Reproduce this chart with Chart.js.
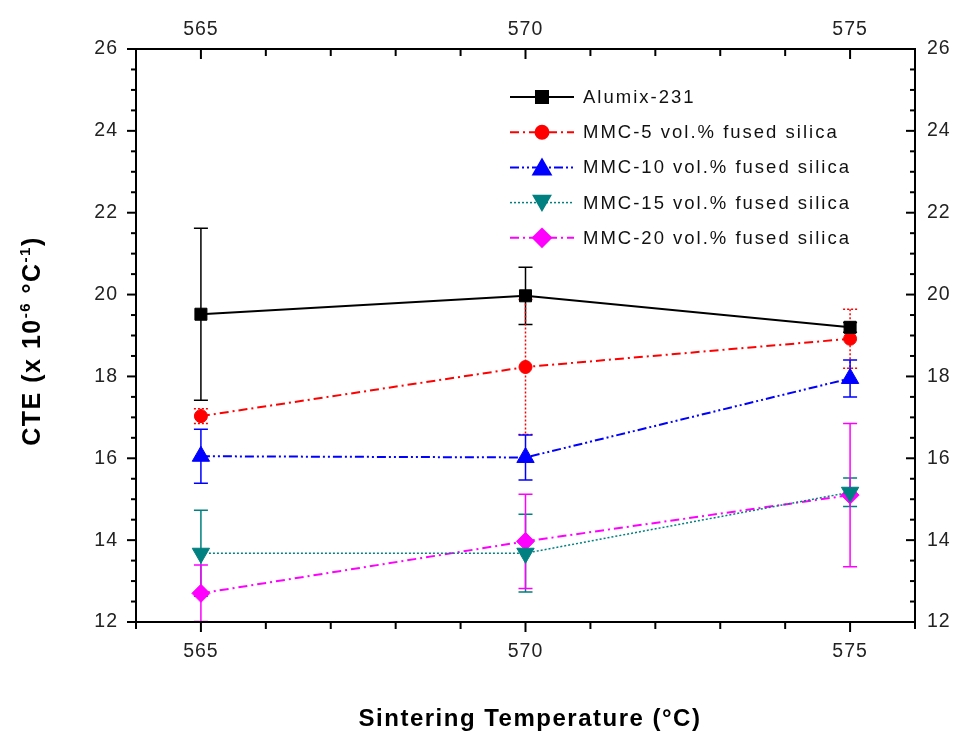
<!DOCTYPE html>
<html>
<head>
<meta charset="utf-8">
<script src="https://cdn.jsdelivr.net/npm/chart.js@4.4.1/dist/chart.umd.min.js"></script>
<style>
  html, body { margin: 0; padding: 0; background: #fff; }
  canvas { display: block; }
</style>
</head>
<body>
<canvas id="cteChart" width="960" height="731"></canvas>
<script>
// =============================
// DATA
// =============================

const temps = [565, 570, 575];

const alumix = [19.52, 19.97, 19.2];
const alumixErr = [2.1, 0.7, 0.12];

const mmc5 = [17.03, 18.23, 18.92];
const mmc5Err = [0.18, 1.65, 0.72];

const mmc10 = [16.05, 16.02, 17.95];
const mmc10Err = [0.66, 0.55, 0.45];

const mmc15 = [13.68, 13.68, 15.17];
const mmc15Err = [1.05, 0.95, 0.35];

const mmc20 = [12.7, 13.97, 15.1];
const mmc20Err = [0.69, 1.15, 1.75];

const xTickLabels = [565, 570, 575];
const yTickLabels = [12, 14, 16, 18, 20, 22, 24, 26];

const FONT = "'Liberation Sans', Arial, sans-serif";


// =============================
// HELPERS
// =============================

function toPoints(values) {
  return values.map((v, i) => ({ x: temps[i], y: v }));
}

function fixSize(prop, size) {
  return scale => { scale[prop] = size; };
}


// =============================
// PLUGINS
// =============================

// error bars, under the lines and markers
const errorBars = {
  id: 'errorBars',
  beforeDatasetsDraw(chart) {
    const { ctx, chartArea: a, scales } = chart;
    ctx.save();
    ctx.beginPath();
    ctx.rect(a.left, a.top - 1, a.right - a.left, a.bottom - a.top + 1);
    ctx.clip();
    chart.data.datasets.forEach(ds => {
      ctx.strokeStyle = ds.borderColor;
      ctx.lineWidth = 1.5;
      ctx.setLineDash(ds.errDash || []);
      ds.data.forEach((p, i) => {
        const e = ds.errors[i];
        const px = scales.x.getPixelForValue(p.x);
        const top = scales.y.getPixelForValue(p.y + e);
        const bot = scales.y.getPixelForValue(p.y - e);
        ctx.beginPath();
        ctx.moveTo(px, top); ctx.lineTo(px, bot);
        ctx.moveTo(px - 7, top); ctx.lineTo(px + 7, top);
        ctx.moveTo(px - 7, bot); ctx.lineTo(px + 7, bot);
        ctx.stroke();
      });
    });
    ctx.restore();
  }
};

// axis frame with Origin-like ticks
const frame = {
  id: 'frame',
  beforeDraw(chart) {
    chart.ctx.letterSpacing = '1px';
  },
  afterDraw(chart) {
    const { ctx, chartArea: a, scales } = chart;
    ctx.save();
    ctx.strokeStyle = '#000';
    ctx.lineWidth = 2;
    ctx.setLineDash([]);
    ctx.strokeRect(a.left, a.top, a.right - a.left, a.bottom - a.top);

    const seg = (x1, y1, x2, y2) => {
      ctx.beginPath(); ctx.moveTo(x1, y1); ctx.lineTo(x2, y2); ctx.stroke();
    };

    for (let v = 12; v <= 26; v += 0.5) {
      const py = scales.y.getPixelForValue(v);
      const len = v % 2 === 0 ? 9 : 5;
      seg(a.left - len, py, a.left, py);
      seg(a.right - len, py, a.right, py);
    }
    for (let v = 564; v <= 576; v++) {
      const px = scales.x.getPixelForValue(v);
      const len = v % 5 === 0 ? 10 : 7;
      seg(px, a.bottom, px, a.bottom + len);
      seg(px, a.top, px, a.top + len);
    }

    // axis titles
    ctx.fillStyle = '#000';
    ctx.letterSpacing = '1.5px';
    ctx.font = 'bold 24px ' + FONT;
    ctx.textAlign = 'center';
    ctx.textBaseline = 'alphabetic';
    ctx.fillText('Sintering Temperature (°C)', 530, 726);

    const parts = [
      ['CTE (x 10', 25, 0],
      ['-6', 15, -10],
      [' °C', 25, 0],
      ['-1', 15, -10],
      [')', 25, 0]
    ];
    ctx.translate(40, 341);
    ctx.rotate(-Math.PI / 2);
    ctx.textAlign = 'left';
    let total = 0;
    parts.forEach(p => {
      ctx.font = 'bold ' + p[1] + 'px ' + FONT;
      total += ctx.measureText(p[0]).width;
    });
    let cx = -total / 2;
    parts.forEach(p => {
      ctx.font = 'bold ' + p[1] + 'px ' + FONT;
      ctx.fillText(p[0], cx, p[2]);
      cx += ctx.measureText(p[0]).width;
    });
    ctx.restore();
  }
};

// legend in the upper right of the plot
const legendBox = {
  id: 'legendBox',
  afterDraw(chart) {
    const { ctx } = chart;
    ctx.save();
    ctx.letterSpacing = '2px';
    ctx.font = '18.5px ' + FONT;
    ctx.textBaseline = 'middle';
    ctx.textAlign = 'left';
    chart.data.datasets.forEach((ds, i) => {
      const y = 97 + i * 35.2;
      ctx.strokeStyle = ds.borderColor;
      ctx.lineWidth = ds.borderWidth;
      ctx.setLineDash(ds.borderDash || []);
      ctx.beginPath();
      ctx.moveTo(510, y); ctx.lineTo(574, y);
      ctx.stroke();
      ctx.setLineDash([]);
      ctx.fillStyle = ds.pointBackgroundColor;
      ctx.strokeStyle = ds.pointBorderColor;
      Chart.helpers.drawPoint(ctx, {
        pointStyle: ds.pointStyle,
        rotation: ds.pointRotation || 0,
        radius: ds.pointRadius,
        borderWidth: 1
      }, 542, ds.pointStyle === 'triangle' ? y + (ds.pointRotation ? -2 : 2) : y);
      ctx.fillStyle = '#111';
      ctx.fillText(ds.label, 583, y + 1);
    });
    ctx.restore();
  }
};


// =============================
// CHART
// =============================

function series(label, values, errs, color, style) {
  return Object.assign({
    label: label,
    data: toPoints(values),
    errors: errs,
    borderColor: color,
    backgroundColor: color,
    pointBackgroundColor: color,
    pointBorderColor: color,
    pointBorderWidth: 1,
    borderWidth: 2,
    tension: 0,
    fill: false,
    xAxisID: 'x',
    yAxisID: 'y'
  }, style);
}

const tickFont = { family: FONT, size: 19.5 };

new Chart(document.getElementById('cteChart'), {
  type: 'line',
  data: {
    datasets: [
      series('Alumix-231', alumix, alumixErr, '#000000',
        { pointStyle: 'rect', pointRadius: 8.5 }),
      series('MMC-5 vol.% fused silica', mmc5, mmc5Err, '#ff0000',
        { pointStyle: 'circle', pointRadius: 6.5, borderDash: [9, 4, 2, 4], errDash: [2, 2] }),
      series('MMC-10 vol.% fused silica', mmc10, mmc10Err, '#0000ff',
        { pointStyle: 'triangle', pointRadius: 10, borderDash: [9, 3, 2, 3, 2, 3] }),
      series('MMC-15 vol.% fused silica', mmc15, mmc15Err, '#008080',
        { pointStyle: 'triangle', pointRotation: 180, pointRadius: 10, borderWidth: 1.5, borderDash: [2, 2] }),
      series('MMC-20 vol.% fused silica', mmc20, mmc20Err, '#ff00ff',
        { pointStyle: 'rectRot', pointRadius: 9, borderDash: [9, 4, 2, 4] })
    ]
  },
  options: {
    responsive: false,
    animation: false,
    devicePixelRatio: 1,
    layout: { padding: 0 },
    plugins: {
      legend: { display: false },
      tooltip: { enabled: false }
    },
    scales: {
      x: {
        type: 'linear', position: 'bottom', min: 564, max: 576,
        grid: { display: false, drawTicks: false }, border: { display: false },
        ticks: {
          stepSize: 1, padding: 18, color: '#222', font: tickFont, maxRotation: 0, autoSkip: false,
          callback: v => xTickLabels.includes(v) ? String(v) : ''
        },
        afterFit: fixSize('height', 109)
      },
      x2: {
        type: 'linear', position: 'top', min: 564, max: 576,
        grid: { display: false, drawTicks: false }, border: { display: false },
        ticks: {
          stepSize: 1, padding: 8, color: '#222', font: tickFont, maxRotation: 0, autoSkip: false,
          callback: v => xTickLabels.includes(v) ? String(v) : ''
        },
        afterFit: fixSize('height', 49)
      },
      y: {
        type: 'linear', position: 'left', min: 12, max: 26,
        grid: { display: false, drawTicks: false }, border: { display: false },
        ticks: {
          stepSize: 2, padding: 18, color: '#222', font: tickFont,
          callback: v => yTickLabels.includes(v) ? String(v) : ''
        },
        afterFit: fixSize('width', 136)
      },
      y2: {
        type: 'linear', position: 'right', min: 12, max: 26,
        grid: { display: false, drawTicks: false }, border: { display: false },
        ticks: {
          stepSize: 2, padding: 12, color: '#222', font: tickFont,
          callback: v => yTickLabels.includes(v) ? String(v) : ''
        },
        afterFit: fixSize('width', 45)
      }
    }
  },
  plugins: [errorBars, frame, legendBox]
});
</script>
</body>
</html>
